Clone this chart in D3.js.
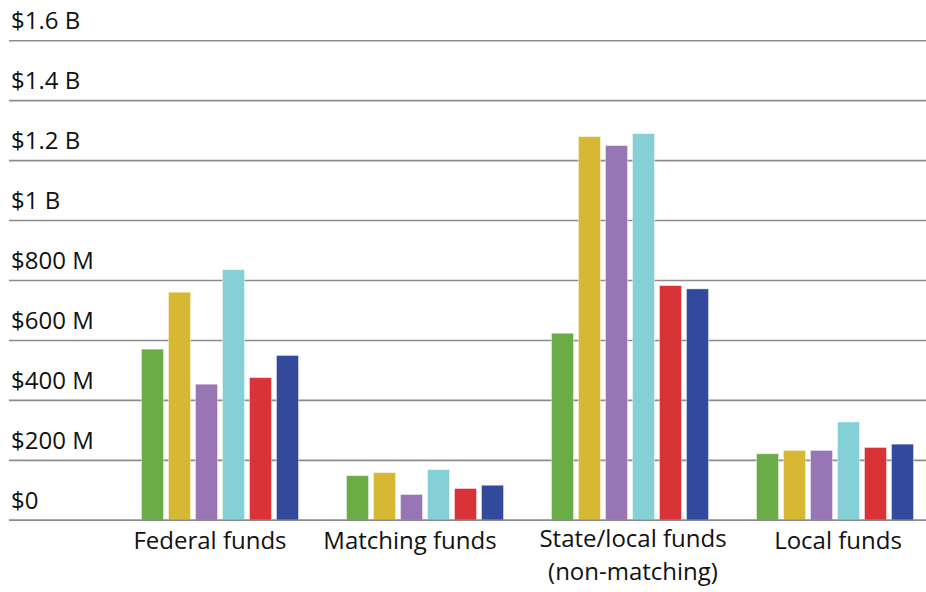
<!DOCTYPE html>
<html>
<head>
<meta charset="utf-8">
<script src="https://cdn.jsdelivr.net/npm/d3@7"></script>
<style>
  html, body { margin: 0; padding: 0; background: #fff; }
  svg { display: block; }
  text { font-family: "Open Sans", sans-serif; fill: #111; }
</style>
</head>
<body>
<svg id="chart" width="926" height="592"></svg>
<script>
const categories = ["Federal funds", "Matching funds", "State/local funds\n(non-matching)", "Local funds"];
const seriesNames = ["s1", "s2", "s3", "s4", "s5", "s6"];
const seriesColors = ["#6aac46", "#d6b833", "#9875b4", "#84d0d6", "#d93338", "#33499c"];
// values in millions of dollars, one array per series across categories
const s1 = [571, 149, 624, 222];
const s2 = [761, 159, 1280, 233];
const s3 = [454, 86, 1250, 233];
const s4 = [836, 169, 1290, 328];
const s5 = [476, 106, 783, 243];
const s6 = [550, 117, 772, 254];
const seriesValues = [s1, s2, s3, s4, s5, s6];
const yTicks = [0, 200, 400, 600, 800, 1000, 1200, 1400, 1600];
const yTickLabels = ["$0", "$200 M", "$400 M", "$600 M", "$800 M", "$1 B", "$1.2 B", "$1.4 B", "$1.6 B"];

const svg = d3.select("#chart");
const W = 926;
const FONT = 24;
// small horizontal nudges of the category labels relative to their group centre (layout only)
const labelNudge = [-10, -15, 3, 3];

const y = d3.scaleLinear().domain([0, 1600]).range([520.3, 40.7]);
const x0 = d3.scaleBand().domain(categories).range([117.5, 937.5]).padding(0);
const innerW = 157;
const x1 = d3.scaleBand().domain(seriesNames)
  .range([x0.bandwidth() / 2 - innerW / 2, x0.bandwidth() / 2 + innerW / 2])
  .paddingInner(5 / 27).paddingOuter(0);

// gridlines + labels
const grid = svg.append("g");
grid.selectAll("line").data(yTicks).join("line")
  .attr("x1", 9).attr("x2", W)
  .attr("y1", d => y(d)).attr("y2", d => y(d))
  .attr("stroke", "#8c8c8c").attr("stroke-width", 1.6);
grid.selectAll("text").data(yTicks).join("text")
  .attr("x", 11).attr("y", d => y(d) - 11.5)
  .attr("font-size", FONT)
  .text((d, i) => yTickLabels[i]);

// bars
const groups = svg.append("g").selectAll("g").data(categories).join("g")
  .attr("transform", d => `translate(${x0(d)},0)`);
groups.selectAll("rect")
  .data((c, ci) => seriesNames.map((s, si) => ({ s, v: seriesValues[si][ci], color: seriesColors[si] })))
  .join("rect")
  .attr("x", d => x1(d.s))
  .attr("width", x1.bandwidth())
  .attr("y", d => y(d.v))
  .attr("height", d => y(0) - y(d.v))
  .attr("fill", d => d.color)
  .attr("stroke", "rgba(255,255,255,0.5)")
  .attr("stroke-width", 0.8);

// redraw zero baseline over bars
svg.append("line")
  .attr("x1", 9).attr("x2", W).attr("y1", y(0)).attr("y2", y(0))
  .attr("stroke", "#8c8c8c").attr("stroke-width", 1.6);

// x axis labels
const xAxis = d3.axisBottom(x0).tickSize(0).tickPadding(0);
const xg = svg.append("g").attr("transform", `translate(0,${y(0)})`).call(xAxis);
xg.select(".domain").remove();
xg.selectAll(".tick text").each(function(d, idx) {
  const t = d3.select(this);
  const lines = d.split("\n");
  t.text(null).attr("font-size", FONT).attr("fill", "#111")
    .attr("font-family", "'Open Sans', sans-serif").attr("dy", null)
    .attr("y", lines.length > 1 ? 26.5 : 28.5);
  lines.forEach((ln, i) => {
    t.append("tspan").attr("x", labelNudge[idx]).attr("dy", i === 0 ? 0 : 33).text(ln);
  });
});
</script>
</body>
</html>
